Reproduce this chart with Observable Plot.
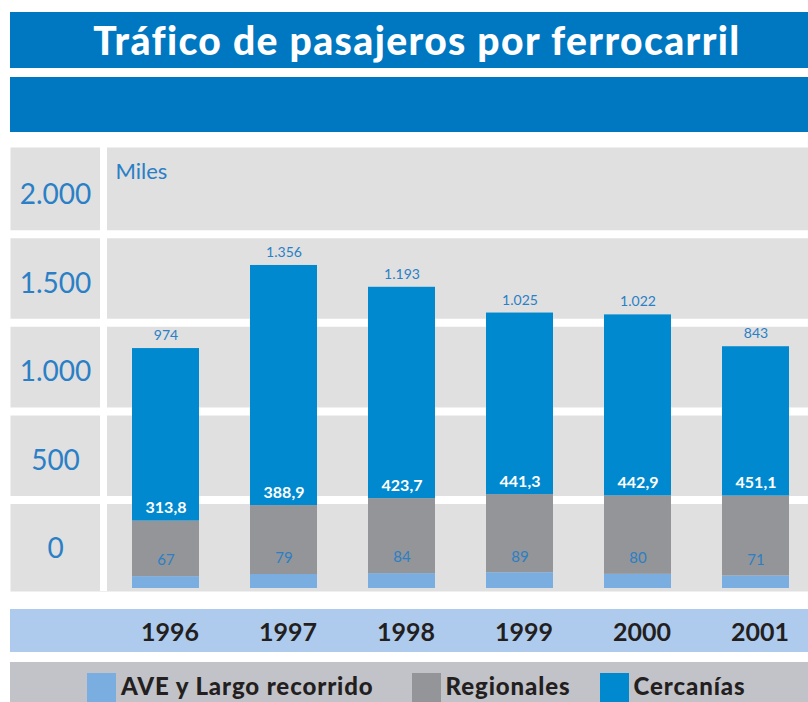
<!DOCTYPE html>
<html><head><meta charset="utf-8">
<script src="https://cdn.jsdelivr.net/npm/d3@7"></script>
<script src="https://cdn.jsdelivr.net/npm/@observablehq/plot@0.6"></script>
<style>
body{margin:0;background:#fff;font-family:Lato,"Open Sans",sans-serif;}
#wrap{position:relative;width:808px;height:702px;overflow:hidden;}
.band{position:absolute;}
#legend{display:flex;align-items:flex-start;padding-left:77px;box-sizing:border-box;padding-top:11px;}
.item{display:flex;align-items:flex-start;}
.sw{width:29px;height:31px;margin-right:5px;}
.lab{font-weight:900;font-size:24px;line-height:26px;color:#231f20;letter-spacing:0.9px;}
</style></head><body>
<div id="wrap">
 <div class="band" style="left:10px;top:12px;width:798px;height:56px;background:#0077c1;color:#fff;font-weight:900;font-size:39px;display:flex;align-items:center;justify-content:center;padding-left:16px;box-sizing:border-box;letter-spacing:1.4px;">Tráfico de pasajeros por ferrocarril</div>
 <div class="band" style="left:10px;top:77px;width:798px;height:55px;background:#0077c1"></div>
 <div class="band" style="left:10px;top:609px;width:798px;height:43px;background:#aecbee"></div>
 <div class="band" id="legend" style="left:10px;top:662px;width:798px;height:40px;background:#c2c2c9"></div>
 <div id="chart" style="position:absolute;left:0;top:140px"></div>
 <div class="band" style="left:100px;top:147px;width:7px;height:444px;background:#fff"></div>
</div>
<script>
const years = ["1996","1997","1998","1999","2000","2001"];
const series = ["AVE y Largo recorrido","Regionales","Cercanías"];
const ave = [67,79,84,89,80,71];
const regionales = [313.8,388.9,423.7,441.3,442.9,451.1];
const cercanias = [974,1356,1193,1025,1022,843];
const yTicks = [0,500,1000,1500,2000];
const colors = ["#7aaee0","#939598","#0089cf"];
const unitLabel = "Miles";

const loc = d3.formatLocale({decimal:",", thousands:".", grouping:[3], currency:["","€"]});
const fmtInt = loc.format(",d");
const fmtDec = loc.format(",.1f");

const values = [ave, regionales, cercanias];
const rows = [];
series.forEach((s, j) => years.forEach((y, i) => rows.push({year: y, series: s, value: values[j][i]})));

const blue = "#2a7fc6";
const chart = Plot.plot({
  width: 808, height: 520,
  marginTop: 7, marginBottom: 69, marginLeft: 10, marginRight: 0,
  style: {background: "transparent", fontFamily: "Lato, 'Open Sans', sans-serif"},
  x: {type: "band", domain: years, range: [112, 810], paddingInner: 0.43, paddingOuter: 0.15, axis: null},
  y: {domain: [0, 2490], range: [448, 7], axis: null},
  color: {domain: series, range: colors},
  marks: [
    Plot.frame({fill: "#e0e0e0", stroke: "none"}),
    Plot.ruleY(yTicks.slice(1), {stroke: "#fff", strokeWidth: 8}),
    Plot.barY(rows, {x: "year", y: "value", fill: "series", order: series}),
    Plot.axisY(yTicks, {anchor: "left", label: null, tickSize: 0, tickPadding: 0, dx: 45, dy: -39, textAnchor: "middle",
      fontSize: 28, fill: blue, tickFormat: fmtInt}),
    Plot.axisX(years, {anchor: "bottom", label: null, tickSize: 0, tickPadding: 32, dx: 4, fontSize: 25, fontWeight: "bold", fill: "#231f20"}),
    Plot.text([unitLabel], {frameAnchor: "top-left", dx: 105, dy: 16, fontSize: 22, fill: blue}),
    Plot.text(years, {x: d => d, y: (d, i) => ave[i] + regionales[i] + cercanias[i], text: (d, i) => fmtInt(cercanias[i]),
      dy: -13, fontSize: 14, fill: blue}),
    Plot.text(years, {x: d => d, y: (d, i) => ave[i] + regionales[i], text: (d, i) => fmtDec(regionales[i]),
      dy: -13, fontSize: 16, fontWeight: "bold", fill: "#fff"}),
    Plot.text(years, {x: d => d, y: (d, i) => ave[i], text: (d, i) => fmtInt(ave[i]),
      dy: -16, fontSize: 15, fill: blue})
  ]
});
document.getElementById("chart").appendChild(chart);

const leg = document.getElementById("legend");
const gaps = [38, 29, 0];
series.forEach((s, j) => {
  const it = document.createElement("div"); it.className = "item"; it.style.marginRight = gaps[j] + "px";
  const sw = document.createElement("div"); sw.className = "sw"; sw.style.background = colors[j];
  const lb = document.createElement("div"); lb.className = "lab"; lb.textContent = s;
  it.appendChild(sw); it.appendChild(lb); leg.appendChild(it);
});
</script>
</body></html>
